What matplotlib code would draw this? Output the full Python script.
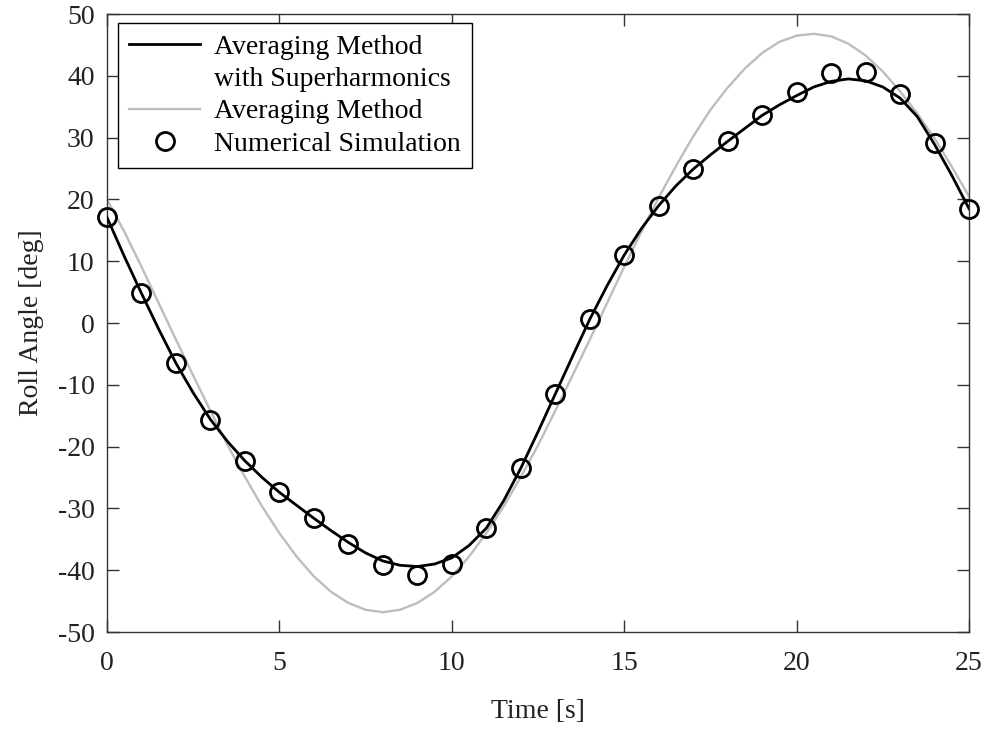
import numpy as np
import matplotlib.pyplot as plt
from matplotlib.lines import Line2D

plt.rcParams['font.family'] = ['Liberation Serif', 'DejaVu Serif']
plt.rcParams['axes.unicode_minus'] = False

# time grid of the two model curves [s]
t_curve = [0.0, 0.5, 1.0, 1.5, 2.0, 2.5, 3.0, 3.5, 4.0, 4.5,
           5.0, 5.5, 6.0, 6.5, 7.0, 7.5, 8.0, 8.5, 9.0, 9.5,
           10.0, 10.5, 11.0, 11.5, 12.0, 12.5, 13.0, 13.5, 14.0, 14.5,
           15.0, 15.5, 16.0, 16.5, 17.0, 17.5, 18.0, 18.5, 19.0, 19.5,
           20.0, 20.5, 21.0, 21.5, 22.0, 22.5, 23.0, 23.5, 24.0, 24.5, 25.0]

# averaging method with superharmonics [deg]
roll_super = [17.1, 10.8, 4.8, -1.0, -6.5, -11.3, -15.6, -19.2, -22.3, -25.0,
              -27.4, -29.5, -31.6, -33.6, -35.5, -37.2, -38.5, -39.2, -39.4, -39.0,
              -38.0, -36.0, -33.2, -28.8, -23.5, -17.6, -11.5, -5.4, 0.6, 6.0,
              11.0, 15.3, 19.0, 22.2, 24.9, 27.2, 29.4, 31.5, 33.6, 35.3,
              36.8, 38.2, 39.1, 39.5, 39.2, 38.2, 36.4, 33.4, 28.9, 23.9, 18.5]

# averaging method [deg]
roll_avg = [20.0, 14.8, 9.1, 3.2, -2.7, -8.5, -14.2, -19.8, -24.9, -29.7,
            -34.0, -37.8, -41.0, -43.5, -45.3, -46.4, -46.8, -46.4, -45.3, -43.5,
            -41.0, -37.8, -34.0, -29.7, -24.9, -19.8, -14.2, -8.5, -2.7, 3.2,
            9.1, 14.8, 20.3, 25.4, 30.2, 34.5, 38.1, 41.2, 43.7, 45.5,
            46.5, 46.8, 46.4, 45.2, 43.3, 40.7, 37.5, 33.9, 29.9, 25.3, 20.5]

# numerical simulation [s], [deg]
t_sim = [0, 1, 2, 3, 4, 5, 6, 7, 8, 9, 10, 11, 12,
         13, 14, 15, 16, 17, 18, 19, 20, 21, 22, 23, 24, 25]
roll_sim = [17.2, 4.8, -6.5, -15.7, -22.4, -27.4, -31.6, -35.8, -39.2, -40.8, -39.0, -33.2, -23.5,
            -11.5, 0.6, 11.0, 19.0, 24.9, 29.4, 33.6, 37.4, 40.4, 40.6, 37.0, 29.1, 18.4]

fig = plt.figure(figsize=(9.88, 7.31), dpi=100)
ax = fig.add_axes([0.1083, 0.1354, 0.8725, 0.8454])

ax.plot(t_curve, roll_avg, color='#bdbdbd', lw=1.7, zorder=2)
ax.plot(t_curve, roll_super, color='black', lw=2.0, zorder=3)
ax.plot(t_sim, roll_sim, 'o', mfc='none', mec='black', ms=13, mew=2.0,
        clip_on=False, zorder=4)

ax.set_xlim(0, 25)
ax.set_ylim(-50, 50)
ax.set_xticks(np.arange(0, 26, 5))
ax.set_yticks(np.arange(-50, 51, 10))
ax.tick_params(direction='in', length=8.5, width=1, color='#333333',
               top=True, right=True, labelsize=20, labelcolor='#222222')
ax.tick_params(axis='x', pad=14)
ax.tick_params(axis='y', pad=9)
for s in ax.spines.values():
    s.set_color('#333333')
    s.set_linewidth(1.0)

ax.set_xlabel('Time [s]', fontsize=20, color='#222222', labelpad=16)
ax.set_ylabel('Roll Angle [deg]', fontsize=20, color='#222222', labelpad=10)

handles = [
    Line2D([], [], color='black', lw=2.0),
    Line2D([], [], color='none'),
    Line2D([], [], color='#bdbdbd', lw=1.7),
    Line2D([], [], ls='none', marker='o', mfc='none', mec='black', ms=13, mew=2.0),
]
labels = ['Averaging Method', 'with Superharmonics', 'Averaging Method', 'Numerical Simulation']
leg = ax.legend(handles, labels, loc='upper left', bbox_to_anchor=(0.0128, 0.9854),
                fontsize=20, frameon=True, fancybox=False, edgecolor='black',
                framealpha=1, handlelength=2.55, handletextpad=0.5,
                labelspacing=0.25, borderpad=0.4, borderaxespad=0.0)
leg.get_frame().set_linewidth(1.0)

fig.savefig('out.png', dpi=100)
